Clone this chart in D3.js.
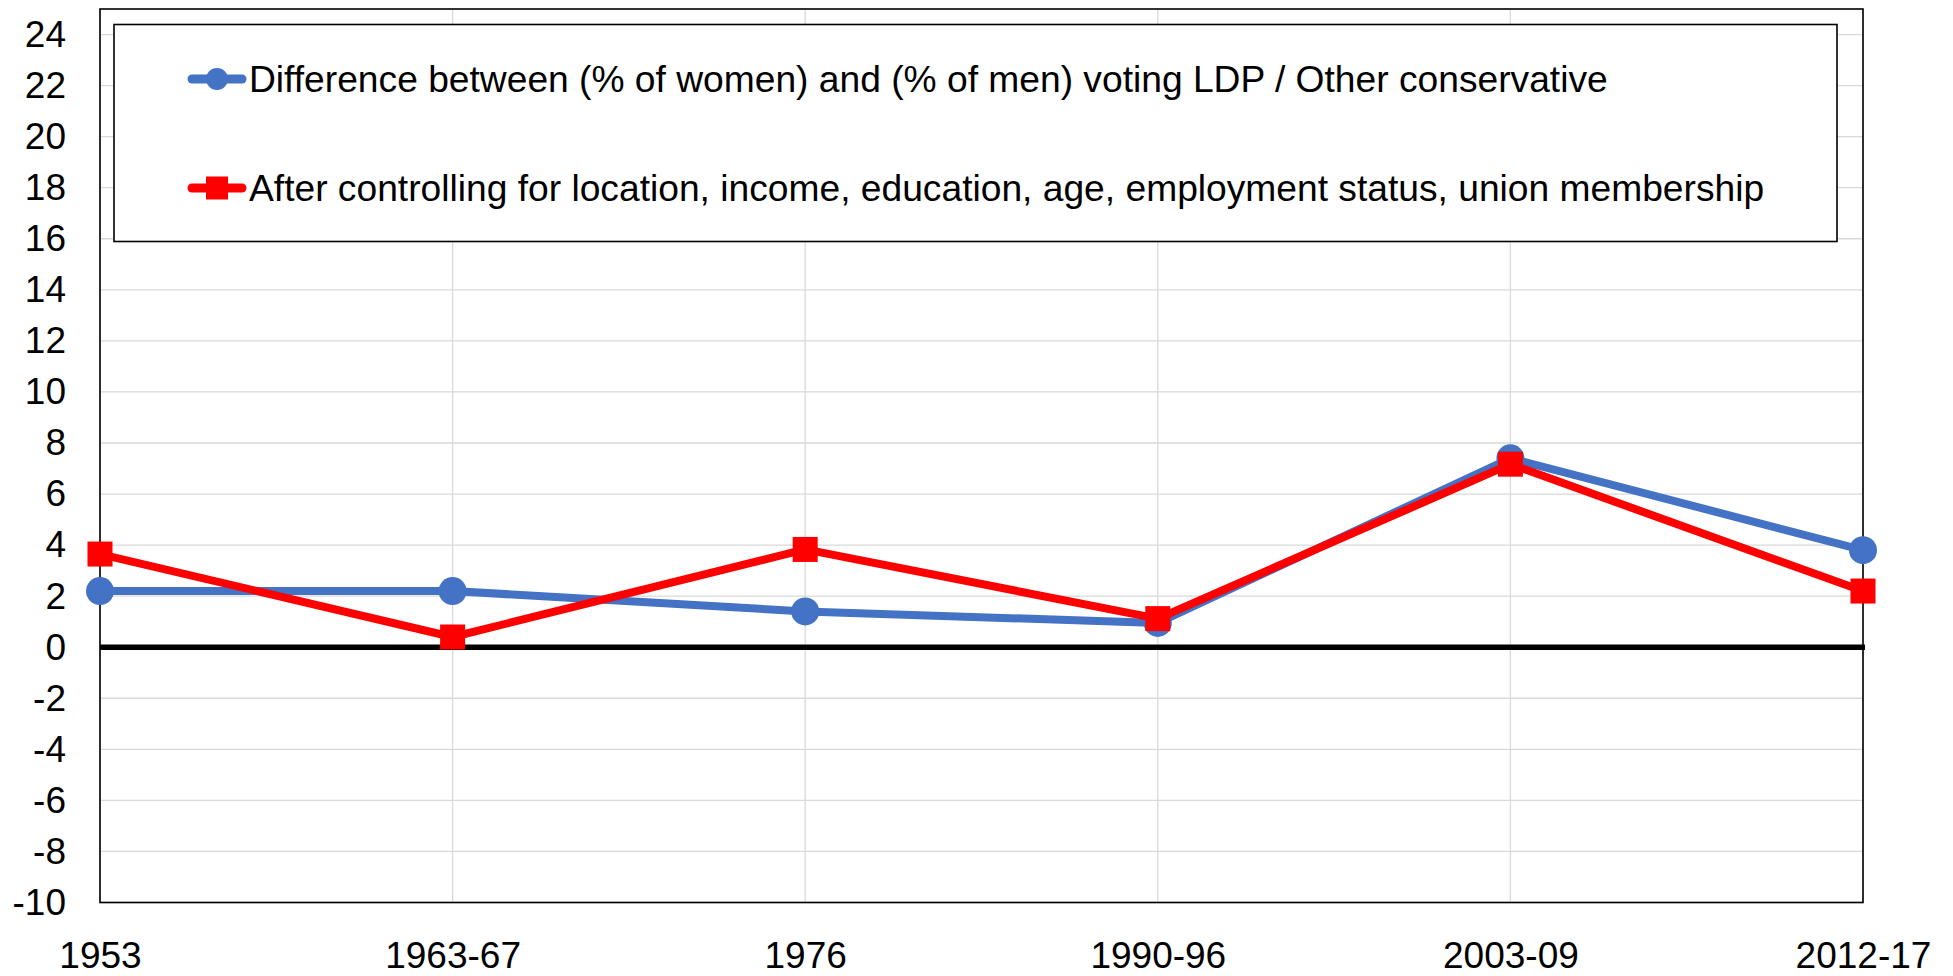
<!DOCTYPE html>
<html>
<head>
<meta charset="utf-8">
<script src="https://cdn.jsdelivr.net/npm/d3@7"></script>
<style>
  html, body { margin: 0; padding: 0; background: #fff; }
  svg { display: block; }
  text { font-family: Arial, "Liberation Sans", sans-serif; fill: #000; }
</style>
</head>
<body>
<svg id="chart" width="1953" height="976"></svg>
<script>
// Periods on the x axis
const periods = ["1953", "1963-67", "1976", "1990-96", "2003-09", "2012-17"];

// Gender gap in LDP / other conservative vote (percentage points)
const rawGap = [2.2, 2.2, 1.4, 0.95, 7.4, 3.8];
const controlledGap = [3.65, 0.4, 3.83, 1.12, 7.17, 2.2];

// Y axis tick values
const yTicks = [-10, -8, -6, -4, -2, 0, 2, 4, 6, 8, 10, 12, 14, 16, 18, 20, 22, 24];

const seriesNames = [
  "Difference between (% of women) and (% of men) voting LDP / Other conservative",
  "After controlling for location, income, education, age, employment status, union membership"
];

const BLUE = "#4472C4";
const RED = "#FF0000";
const FONT = "Arial, 'Liberation Sans', sans-serif";

const svg = d3.select("#chart");
const plot = { left: 100, right: 1863, top: 9, bottom: 902.5 };

const x = d3.scalePoint().domain(periods).range([plot.left, plot.right]);
const y = d3.scaleLinear().domain([-10, 25]).range([plot.bottom, plot.top]);

// Horizontal gridlines
svg.append("g")
  .selectAll("line")
  .data(yTicks)
  .join("line")
  .attr("x1", plot.left).attr("x2", plot.right)
  .attr("y1", d => y(d)).attr("y2", d => y(d))
  .attr("stroke", "#d9d9d9").attr("stroke-width", 1.3);

// Vertical gridlines
svg.append("g")
  .selectAll("line")
  .data(periods)
  .join("line")
  .attr("x1", d => x(d)).attr("x2", d => x(d))
  .attr("y1", plot.top).attr("y2", plot.bottom)
  .attr("stroke", "#d9d9d9").attr("stroke-width", 1.3);

// Plot frame
svg.append("rect")
  .attr("x", plot.left).attr("y", plot.top)
  .attr("width", plot.right - plot.left).attr("height", plot.bottom - plot.top)
  .attr("fill", "none").attr("stroke", "#000").attr("stroke-width", 1.6);

// Zero line
svg.append("line")
  .attr("x1", plot.left).attr("x2", plot.right + 2)
  .attr("y1", y(0)).attr("y2", y(0))
  .attr("stroke", "#000").attr("stroke-width", 5.5);

// Y axis labels (plain hyphen for negatives)
const yAxis = d3.axisLeft(y).tickValues(yTicks).tickSize(0).tickPadding(34)
  .tickFormat(d => String(d));
const gy = svg.append("g").attr("transform", `translate(${plot.left},0)`).call(yAxis);
gy.select(".domain").remove();
gy.selectAll("text")
  .attr("font-size", 37)
  .attr("font-family", FONT)
  .attr("fill", "#000");

// X axis labels
const xAxis = d3.axisBottom(x).tickSize(0).tickPadding(39);
const gx = svg.append("g").attr("transform", `translate(0,${plot.bottom})`).call(xAxis);
gx.select(".domain").remove();
gx.selectAll("text")
  .attr("font-size", 37)
  .attr("font-family", FONT)
  .attr("fill", "#000");

const line = d3.line().x((d, i) => x(periods[i])).y(d => y(d));

// Raw gap series
svg.append("path")
  .datum(rawGap)
  .attr("d", line)
  .attr("fill", "none").attr("stroke", BLUE).attr("stroke-width", 8)
  .attr("stroke-linejoin", "round");
svg.append("g")
  .selectAll("circle")
  .data(rawGap)
  .join("circle")
  .attr("cx", (d, i) => x(periods[i]))
  .attr("cy", d => y(d))
  .attr("r", 14)
  .attr("fill", BLUE);

// Controlled gap series
svg.append("path")
  .datum(controlledGap)
  .attr("d", line)
  .attr("fill", "none").attr("stroke", RED).attr("stroke-width", 8)
  .attr("stroke-linejoin", "round");
svg.append("g")
  .selectAll("rect")
  .data(controlledGap)
  .join("rect")
  .attr("x", (d, i) => x(periods[i]) - 12.5)
  .attr("y", d => y(d) - 12.5)
  .attr("width", 25).attr("height", 25)
  .attr("fill", RED);

// Legend
const legend = svg.append("g");
legend.append("rect")
  .attr("x", 114).attr("y", 24.5)
  .attr("width", 1837 - 114).attr("height", 241.5 - 24.5)
  .attr("fill", "#fff").attr("stroke", "#000").attr("stroke-width", 1.6);

const legendRows = [
  { name: seriesNames[0], color: BLUE, shape: "circle", cy: 79 },
  { name: seriesNames[1], color: RED, shape: "square", cy: 188 }
];
legendRows.forEach(row => {
  legend.append("line")
    .attr("x1", 192).attr("x2", 242)
    .attr("y1", row.cy).attr("y2", row.cy)
    .attr("stroke", row.color).attr("stroke-width", 9)
    .attr("stroke-linecap", "round");
  if (row.shape === "circle") {
    legend.append("circle")
      .attr("cx", 217).attr("cy", row.cy).attr("r", 11)
      .attr("fill", row.color);
  } else {
    legend.append("rect")
      .attr("x", 206).attr("y", row.cy - 11.5)
      .attr("width", 22).attr("height", 23)
      .attr("fill", row.color);
  }
  legend.append("text")
    .attr("x", 249).attr("y", row.cy + 12.5)
    .attr("font-size", 37.2)
    .attr("font-family", FONT)
    .text(row.name);
});
</script>
</body>
</html>
